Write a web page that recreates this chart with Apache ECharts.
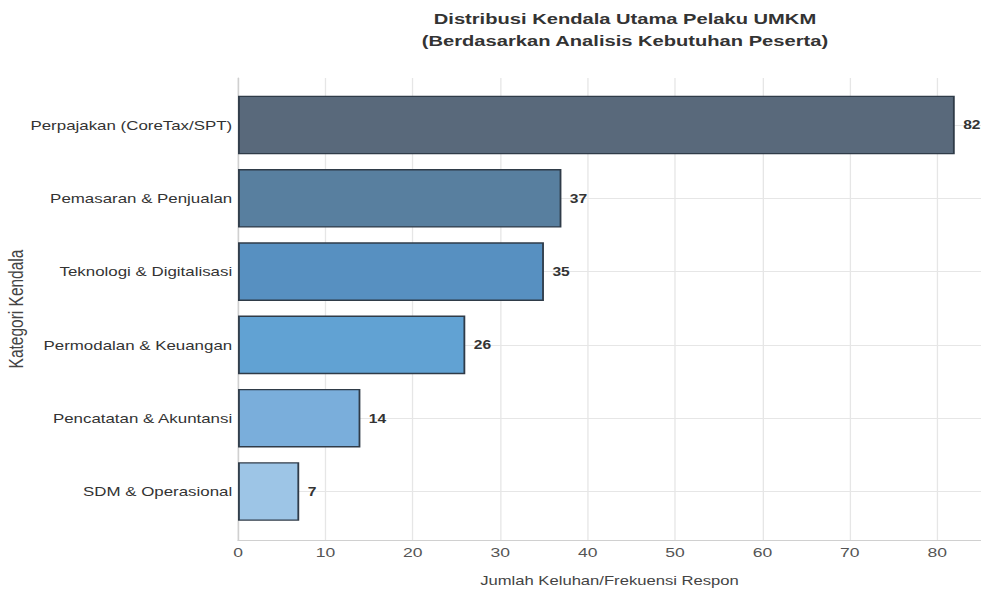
<!DOCTYPE html>
<html><head><meta charset="utf-8">
<script src="https://cdn.jsdelivr.net/npm/echarts@6/dist/echarts.min.js"></script>
<style>
html,body{margin:0;padding:0;background:#fff;overflow:hidden}
#wrap{width:981px;height:594px;overflow:hidden}
#c{width:755px;height:594px;transform:scaleX(1.2993);transform-origin:0 0}
</style>
</head><body><div id="wrap"><div id="c"></div></div>
<script>
const categories = ['Perpajakan (CoreTax/SPT)','Pemasaran & Penjualan','Teknologi & Digitalisasi','Permodalan & Keuangan','Pencatatan & Akuntansi','SDM & Operasional'];
const values = [82, 37, 35, 26, 14, 7];
const barColors = ['#59697b','#587f9f','#5790c1','#61a2d3','#7aaedb','#9dc5e6'];
const xTicks = [0,10,20,30,40,50,60,70,80];

const F = 'Liberation Sans, Arial, sans-serif';
const LEFT = 183.2;
const chart = echarts.init(document.getElementById('c'), null, {renderer: 'svg'});
chart.setOption({
  animation: false,
  title: {
    text: 'Distribusi Kendala Utama Pelaku UMKM\n(Berdasarkan Analisis Kebutuhan Peserta)',
    left: 476, textAlign: 'center', top: 3,
    textStyle: {fontFamily: F, fontSize: 15.5, fontWeight: 'bold', color: '#333', lineHeight: 22}
  },
  grid: [
    {left: LEFT, right: 0, top: 78, bottom: 54, outerBoundsMode: 'none'},
    {left: LEFT, right: 0, top: 88.35, bottom: 65.85, outerBoundsMode: 'none'}
  ],
  xAxis: [
    {gridIndex: 0, type: 'value', min: 0, max: 85, interval: 10,
     axisLine: {show: true, lineStyle: {color: '#d0d0d0', width: 1.2}},
     axisTick: {show: false},
     axisLabel: {color: '#555', fontFamily: F, fontSize: 13.5, margin: 5,
       customValues: xTicks},
     splitLine: {show: true, lineStyle: {color: '#e6e6e6', width: 1}},
     name: 'Jumlah Keluhan/Frekuensi Respon', nameLocation: 'middle', nameGap: 34,
     nameTextStyle: {color: '#444', fontFamily: F, fontSize: 12.8}},
    {gridIndex: 1, type: 'value', min: 0, max: 85, show: false}
  ],
  yAxis: [
    {gridIndex: 0, type: 'value', min: 0, max: 1,
     axisLine: {show: true, lineStyle: {color: '#d0d0d0', width: 1.2}},
     axisTick: {show: false}, axisLabel: {show: false}, splitLine: {show: false},
     name: 'Kategori Kendala', nameLocation: 'middle', nameGap: 163, nameRotate: 90,
     nameTextStyle: {color: '#444', fontFamily: F, fontSize: 15.5}},
    {gridIndex: 1, type: 'category', data: categories, inverse: true,
     axisLine: {show: false}, axisTick: {show: false},
     axisLabel: {color: '#333', fontFamily: F, fontSize: 13, margin: 4.5},
     splitLine: {show: false}}
  ],
  series: [{
    type: 'bar', xAxisIndex: 1, yAxisIndex: 1,
    data: values.map((v, i) => ({value: v, itemStyle: {color: barColors[i]}})),
    barCategoryGap: '20%',
    itemStyle: {borderColor: '#2f3b48', borderWidth: 1.4},
    label: {show: true, position: 'right', distance: 6.5, color: '#333',
      fontFamily: F, fontWeight: 'bold', fontSize: 12},
    markLine: {
      silent: true, symbol: 'none', z: 1, label: {show: false},
      lineStyle: {color: '#e6e6e6', type: 'solid', width: 1},
      data: categories.map(c => ({yAxis: c}))
    },
    z: 3
  }]
});
</script></body></html>
